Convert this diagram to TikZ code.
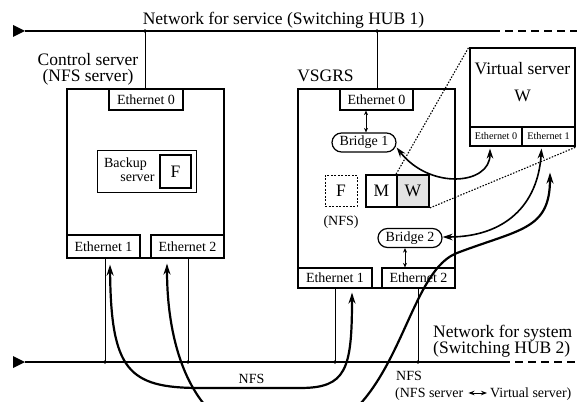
\documentclass[tikz,border=0pt]{standalone}
\usepackage{fontspec}
\setmainfont{Liberation Serif}
\usetikzlibrary{arrows.meta}
\begin{document}
\begin{tikzpicture}[x=1pt,y=-1pt,
  bigfont/.style={font=\fontsize{17.5}{19}\selectfont},
  midfont/.style={font=\fontsize{14}{16}\selectfont},
  smallfont/.style={font=\fontsize{10.2}{12}\selectfont},
  bigbox/.style={draw, line width=2.1pt, inner sep=0pt},
  ebox/.style={draw, line width=1.2pt, fill=white, inner sep=0pt, midfont},
  sebox/.style={draw, line width=1.1pt, fill=white, inner sep=0pt, smallfont},
  bridge/.style={draw, line width=1.2pt, rounded corners=9.5pt, fill=white, inner sep=0pt, minimum width=64pt, minimum height=19pt, midfont},
  net/.style={line width=1.5pt},
  netdash/.style={line width=1.5pt, dash pattern=on 8pt off 5pt},
  link/.style={line width=1pt},
  dot/.style={circle, fill=black, inner sep=0pt, minimum size=3.6pt},
  thinarrow/.style={line width=1.6pt, {Stealth[length=10pt,width=6.5pt]}-{Stealth[length=10pt,width=6.5pt]}},
  thickarrow/.style={line width=2.2pt, {Stealth[length=11pt,width=7pt]}-{Stealth[length=11pt,width=7pt]}},
  smallarrow/.style={line width=0.9pt, {Stealth[length=4.5pt,width=4pt]}-{Stealth[length=4.5pt,width=4pt]}},
  dotline/.style={line width=1.1pt, dash pattern=on 1.5pt off 1.5pt}
]
\useasboundingbox (0,0) rectangle (577,401);

% ---------- networks ----------
\coordinate (ts) at (25,31);
\coordinate (tm) at (492,31);
\coordinate (te) at (577,31);
\coordinate (bs) at (25,362);
\coordinate (bm) at (502,362);
\coordinate (be) at (577,362);
\fill (13,25) -- (ts) -- (13,37) -- cycle;
\fill (13,356) -- (bs) -- (13,368) -- cycle;
\draw[net] (ts) -- (tm);
\draw[netdash] (tm) -- (te);
\draw[net] (bs) -- (bm);
\draw[netdash] (bm) -- (be);
\node[bigfont, anchor=base] (nsvc) at (283.5,25) {Network for service (Switching HUB 1)};
\node[bigfont, anchor=base west, inner sep=0pt] (nsys1) at (433,337) {Network for system};
\node[bigfont, anchor=base west, inner sep=0pt] (nsys2) at (433,353) {(Switching HUB 2)};

% ---------- control server ----------
\node[bigbox, minimum width=157pt, minimum height=169pt] (cs) at (145.5,173.5) {};
\node[bigfont, align=center, inner sep=0pt] (cslab) at (88,69) {Control server\\[-3pt](NFS server)};
\node[ebox, minimum width=74pt, minimum height=21pt] (ce0) at (146,99.5) {Ethernet 0};
\node[ebox, minimum width=73pt, minimum height=23pt] (ce1) at (103.5,246.5) {Ethernet 1};
\node[ebox, minimum width=73pt, minimum height=23pt] (ce2) at (187.5,246.5) {Ethernet 2};
\node[draw, line width=0.9pt, minimum width=99pt, minimum height=42pt, inner sep=0pt] (bk) at (146.5,171) {};
\node[midfont, inner sep=0pt, anchor=base] (bk1) at (125.5,167.5) {Backup};
\node[midfont, inner sep=0pt, anchor=base] (bk2) at (137.5,181.5) {server};
\node[draw, line width=1.5pt, minimum width=31pt, minimum height=33pt, inner sep=0pt, bigfont] (bkf) at (175.5,171.5) {F};

% ---------- VSGRS ----------
\node[bigbox, minimum width=157pt, minimum height=199pt] (vg) at (376.5,188.5) {};
\node[bigfont, inner sep=0pt] (vglab) at (325.5,76) {VSGRS};
\node[ebox, minimum width=73pt, minimum height=21pt] (ve0) at (376.5,99.5) {Ethernet 0};
\node[ebox, minimum width=74pt, minimum height=20pt] (ve1) at (335,278) {Ethernet 1};
\node[ebox, minimum width=73pt, minimum height=20pt] (ve2) at (418.5,278) {Ethernet 2};
\node[bridge] (b1) at (364,142.5) {Bridge 1};
\node[bridge] (b2) at (410,238) {Bridge 2};
\node[draw, line width=1pt, dash pattern=on 2pt off 1.5pt, minimum width=32pt, minimum height=31pt, inner sep=0pt, bigfont] (vf) at (341,190.5) {F};
\node[midfont, inner sep=0pt] (nfsp) at (341,222) {(NFS)};
\node[draw, line width=1.8pt, minimum width=31pt, minimum height=32pt, inner sep=0pt, bigfont] (vm) at (381.5,191) {M};
\node[draw, line width=1.8pt, fill=gray!22, minimum width=32pt, minimum height=32pt, inner sep=0pt, bigfont] (vw) at (413,191) {W};

% ---------- Virtual server ----------
\node[bigbox, minimum width=105pt, minimum height=98pt] (vs) at (522.5,97) {};
\node[bigfont, inner sep=0pt] (vslab) at (522.5,69) {Virtual server};
\node[bigfont, inner sep=0pt] (vsw) at (522.5,95.5) {W};
\node[sebox, minimum width=52pt, minimum height=19pt] (vse0) at (496,136.5) {Ethernet 0};
\node[sebox, minimum width=53pt, minimum height=19pt] (vse1) at (548.5,136.5) {Ethernet 1};

% dotted zoom lines
\draw[dotline] (vw.north west) -- (vs.north west);
\draw[dotline] (vw.south east) -- (vs.south east);

% ---------- vertical links ----------
\node[dot] (j1) at (145,31) {};
\node[dot] (j2) at (377,31) {};
\node[dot] (j3) at (105,362) {};
\node[dot] (j4) at (188,362) {};
\node[dot] (j5) at (335,362) {};
\node[dot] (j6) at (418,362) {};
\draw[link] (j1.center) -- (j1 |- cs.north);
\draw[link] (j2.center) -- (j2 |- vg.north);
\draw[link] (j3 |- ce1.south) -- (j3.center);
\draw[link] (j4 |- ce2.south) -- (j4.center);
\draw[link] (j5 |- ve1.south) -- (j5.center);
\draw[link] (j6 |- ve2.south) -- (j6.center);

% bridge short arrows
\draw[smallarrow] (ve0.south -| 366,0) -- (b1.north -| 366,0);
\draw[smallarrow] (b2.south -| 405,0) -- (ve2.north -| 405,0);

% ---------- curved arrows ----------
\coordinate (a1) at ([yshift=-5pt]b1.east);
\coordinate (a2) at ([xshift=-6pt,yshift=-2pt]vse0.south);
\draw[thinarrow] (a1) .. controls (430,190) and (490,185) .. (a2);

\coordinate (c1) at ([yshift=1pt]b2.east);
\coordinate (c2) at ([xshift=-7pt,yshift=-2pt]vse1.south);
\draw[thinarrow] (c1) .. controls (505,237) and (538,205) .. (c2);

\coordinate (d1) at ([xshift=6.5pt,yshift=-6pt]ce1.south);
\coordinate (d2) at ([xshift=17pt,yshift=-4pt]ve1.south);
\draw[thickarrow] (d1) .. controls (111,370) and (128,388) .. (200,388)
  -- (300,388) .. controls (346,388) and (352,370) .. (d2);

\coordinate (e1) at ([xshift=-20.5pt,yshift=-5pt]ce2.south);
\coordinate (e2) at ([xshift=1.5pt,yshift=-26pt]vse1.south);
\draw[thickarrow] (e1) .. controls (167,360) and (200,440) .. (280,440)
  .. controls (400,440) and (400,275) .. (457,253)
  .. controls (520,229) and (550,230) .. (e2);

% ---------- NFS labels ----------
\node[midfont, inner sep=0pt, anchor=base] (nfs1) at (251.5,383) {NFS};
\node[midfont, inner sep=0pt, anchor=base west] (nfs2) at (396,380) {NFS};
\node[midfont, inner sep=0pt, anchor=base west] (nfs3) at (395,397) {(NFS server};
\node[midfont, inner sep=0pt, anchor=base west] (nfs4) at (490,397) {Virtual server)};
\draw[line width=1pt, {Stealth[length=6pt,width=4.5pt]}-{Stealth[length=6pt,width=4.5pt]}]
  ([xshift=5pt,yshift=4pt]nfs3.base east) -- ([xshift=-3pt,yshift=4pt]nfs4.base west);
\end{tikzpicture}
\end{document}
